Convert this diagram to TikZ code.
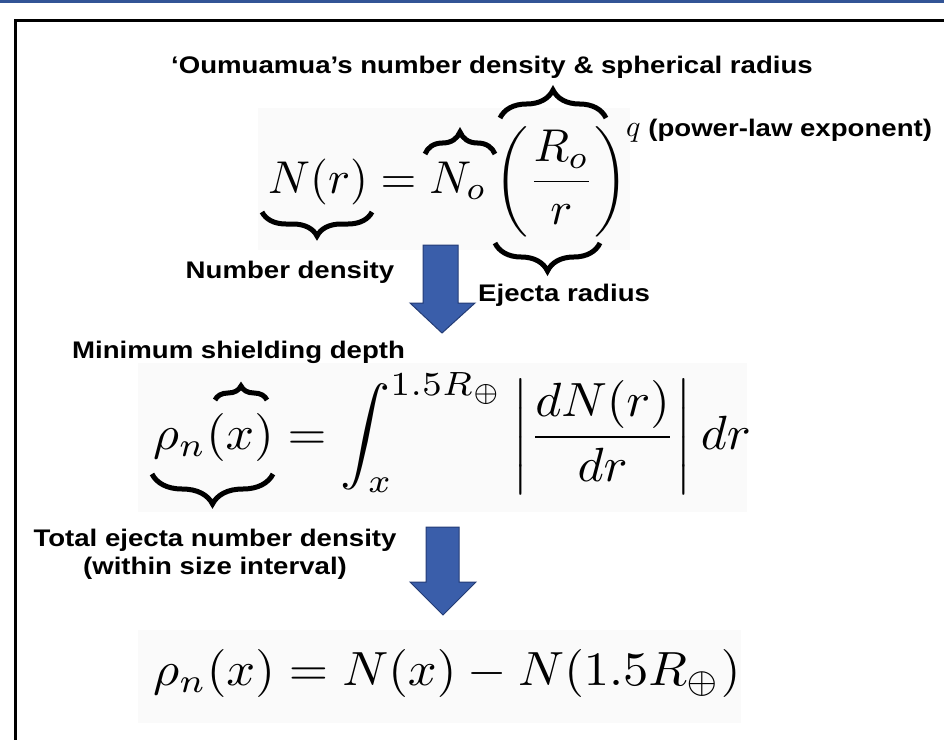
\documentclass[tikz,border=0pt]{standalone}
\definecolor{arrowblue}{RGB}{58,94,170}
\definecolor{arrowedge}{RGB}{36,60,118}
\definecolor{topbar}{RGB}{50,84,150}
\usepackage{amsmath, amssymb}
\usepackage{fontspec}
\setsansfont{Liberation Sans}[FakeStretch=1.15]
\usepackage{tikz}
\usetikzlibrary{decorations.pathreplacing, calc}

\begin{document}
\begin{tikzpicture}[x=1pt, y=-1pt,
  lbl/.style={font=\fontsize{24}{28}\selectfont\sffamily\bfseries, inner sep=0pt},
  eqn/.style={inner sep=0pt},
  curly/.style={decorate, decoration={brace, amplitude=#1}, line width=5pt},
  blockarrow/.style={fill=arrowblue, draw=arrowedge, line width=1pt},
  eqbox/.style={fill=black!2}]
  \useasboundingbox (0,0) rectangle (944,739);

  % Frame
  \fill[topbar] (0,0) rectangle (944,3);
  \draw[line width=3pt] (15.5,760) -- (15.5,20.5) -- (960,20.5);

  % Equation backgrounds
  \fill[eqbox] (258,108) rectangle (630,250);
  \fill[eqbox] (138,363) rectangle (747,512);
  \fill[eqbox] (138,630) rectangle (741,723);

  % Power law
  \node[lbl, anchor=base] (title) at (492,73) {‘Oumuamua’s number density \& spherical radius};
  \node[eqn, anchor=base west] (eqN) at (268,193)
    {\scalebox{4.6}{$\displaystyle N(r) = N_o\left(\frac{R_o}{r}\right)$}};
  \node[lbl, anchor=base west] (qlabel) at (626,136) {{\normalsize\scalebox{3}{$q$}} (power-law exponent)};
  \draw[curly=22pt] (425,154) -- (495,154);
  \draw[curly=28pt] (500,118) -- (606,118);
  \draw[curly=24pt] (372,212) -- (262,212);
  \draw[curly=28pt] (600,243) -- (495,243);
  \node[lbl, anchor=base] (numdens) at (290,278) {Number density};
  \node[lbl, anchor=base west] (ejrad) at (478,301) {Ejecta radius};

  % Arrow 1
  \filldraw[blockarrow] (423,245) -- (458,245) -- (458,303) -- (475,303)
    -- (442,333) -- (410,303) -- (423,303) -- cycle;

  % Shielding integral
  \node[lbl, anchor=base west] (minshield) at (72,358) {Minimum shielding depth};
  \node[eqn, anchor=base west] (eqRho) at (153,449)
    {\scalebox{5.0}[4.8]{$\displaystyle \rho_n(x) = \int_x^{1.5R_\oplus} \left|\frac{dN(r)}{dr}\right| dr$}};
  \draw[curly=14pt] (215,400) -- (267,400);
  \draw[curly=30pt] (273,474) -- (152,474);
  \node[lbl, align=center, anchor=north] (total) at (215,529)
    {Total ejecta number density\\(within size interval)};

  % Arrow 2
  \filldraw[blockarrow] (426,527) -- (459,527) -- (459,582) -- (476,582)
    -- (443,615) -- (410,582) -- (426,582) -- cycle;

  % Result
  \node[eqn, anchor=base west] (eqDiff) at (153,685)
    {\scalebox{5.05}[4.8]{$\rho_n(x) = N(x) - N(1.5R_\oplus)$}};
\end{tikzpicture}
\end{document}
